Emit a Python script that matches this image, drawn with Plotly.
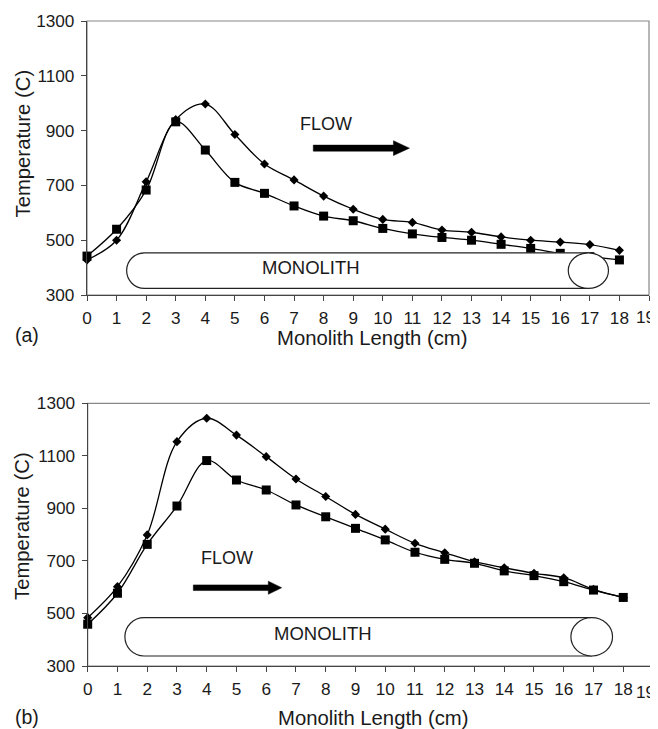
import plotly.graph_objects as go

# ---------------- data ----------------
length_cm = list(range(0, 19))

# (a)
a_diamond = [428, 500, 713, 940, 997, 886, 778, 720, 661, 613, 576, 565, 537, 529, 512, 500, 493, 484, 463]
a_square = [442, 540, 683, 932, 829, 711, 671, 625, 588, 571, 543, 523, 510, 500, 485, 470, 452, 440, 428]

# (b)
b_diamond = [484, 602, 799, 1154, 1243, 1179, 1097, 1012, 945, 877, 821, 767, 731, 697, 674, 653, 636, 592, 561]
b_square = [459, 577, 763, 909, 1082, 1008, 970, 913, 868, 824, 780, 733, 706, 691, 662, 644, 621, 589, 561]

x_ticks = list(range(0, 20))
x_ticktext = [str(v) for v in x_ticks[:-1]] + [""]   # last label placed as annotation (kept inside page)
y_ticks = [300, 500, 700, 900, 1100, 1300]

x_title = "Monolith Length (cm)"
y_title = "Temperature (C)"
panel_labels = ["(a)", "(b)"]

FONT = "Liberation Sans, Arial, Helvetica, sans-serif"
TXT = "#1a1a1a"
OFF = 8                    # page body margin
W, H = 658 - OFF, 729 - OFF
TICK_SIZE = 17.2


def px(x):
    return (x - OFF) / W


def py(y):
    return 1 - (y - OFF) / H


fig = go.Figure()


def add_series(xa, ya, diam, sq):
    fig.add_trace(go.Scatter(x=length_cm, y=diam, mode="lines+markers", xaxis=xa, yaxis=ya,
                             line=dict(color="black", width=1.3, shape="spline", smoothing=1),
                             marker=dict(symbol="diamond", size=7, color="black"),
                             cliponaxis=False, showlegend=False))
    fig.add_trace(go.Scatter(x=length_cm, y=sq, mode="lines+markers", xaxis=xa, yaxis=ya,
                             line=dict(color="black", width=1.3, shape="spline", smoothing=1),
                             marker=dict(symbol="square", size=9, color="black"),
                             cliponaxis=False, showlegend=False))


add_series("x", "y", a_diamond, a_square)
add_series("x2", "y2", b_diamond, b_square)

axis_common = dict(showline=True, linecolor="#444", linewidth=1.3, ticks="outside", ticklen=5,
                   tickcolor="#444", tickwidth=1.2, showgrid=False, zeroline=False,
                   tickfont=dict(family=FONT, size=TICK_SIZE, color=TXT), mirror=False,
                   automargin=False, ticklabeloverflow="allow")

fig.update_layout(
    template="none",
    width=W, height=H, margin=dict(l=0, r=0, t=0, b=0, autoexpand=False),
    paper_bgcolor="white", plot_bgcolor="white",
    xaxis=dict(axis_common, domain=[px(87), px(649)], range=[0, 19], tickvals=x_ticks,
               ticktext=x_ticktext, anchor="y", ticklabelstandoff=2),
    yaxis=dict(axis_common, domain=[py(295), py(21)], range=[300, 1300], tickvals=y_ticks,
               anchor="x", ticklabelstandoff=3),
    xaxis2=dict(axis_common, domain=[px(87.7), px(653)], range=[0, 19], tickvals=x_ticks,
                ticktext=x_ticktext, anchor="y2", ticklabelstandoff=2),
    yaxis2=dict(axis_common, domain=[py(666), py(403.3)], range=[300, 1300], tickvals=y_ticks,
                anchor="x2", ticklabelstandoff=3),
)

shapes = []
# frames (top/right lighter gray)
for xr, yr in (("x domain", "y domain"), ("x2 domain", "y2 domain")):
    shapes.append(dict(type="rect", xref=xr, yref=yr, x0=0, x1=1, y0=0, y1=1,
                       line=dict(color="#888", width=1.2), layer="below"))


def monolith(xr, yr, tip, rx, top, bot, cx0, cx1):
    cy = (top + bot) / 2
    ry = (top - bot) / 2
    k = 0.5523
    x0 = tip + rx
    cc = (cx0 + cx1) / 2
    path = (f"M {cc},{top} L {x0},{top} "
            f"C {x0 - k * rx},{top} {tip},{cy + k * ry} {tip},{cy} "
            f"C {tip},{cy - k * ry} {x0 - k * rx},{bot} {x0},{bot} "
            f"L {cc},{bot} Z")
    shapes.append(dict(type="path", xref=xr, yref=yr, path=path, fillcolor="white",
                       line=dict(color="#222", width=1.2), layer="above"))
    shapes.append(dict(type="circle", xref=xr, yref=yr, x0=cx0, x1=cx1, y0=bot, y1=top,
                       fillcolor="white", line=dict(color="#222", width=1.2), layer="above"))


monolith("x", "y", 1.34, 0.60, 454, 324, 16.27, 17.63)
monolith("x2", "y2", 1.25, 0.645, 484, 338, 16.24, 17.64)


def arrow(xr, yr, xt, xb, xh, yc, hs, hh):
    path = (f"M {xt},{yc + hs} L {xb},{yc + hs} L {xb},{yc + hh} L {xh},{yc} "
            f"L {xb},{yc - hh} L {xb},{yc - hs} L {xt},{yc - hs} Z")
    shapes.append(dict(type="path", xref=xr, yref=yr, path=path, fillcolor="black",
                       line=dict(color="black", width=0.5), layer="above"))


arrow("x", "y", 7.65, 10.36, 10.90, 836, 11, 27)
arrow("x2", "y2", 3.55, 6.07, 6.52, 598, 10.8, 25)

fig.update_layout(shapes=shapes)

ann = []


def text(x, y, s, xr="paper", yr="paper", size=17, xanchor="center", angle=0):
    ann.append(dict(x=x, y=y, xref=xr, yref=yr, text=s, showarrow=False, xanchor=xanchor,
                    yanchor="middle", textangle=angle,
                    font=dict(family=FONT, size=size, color=TXT)))


text(7.12, 924, "FLOW", "x", "y", 18, "left")
text(5.85, 399, "MONOLITH", "x", "y", 18.5, "left")
text(3.75, 712, "FLOW", "x2", "y2", 18, "left")
text(6.18, 422, "MONOLITH", "x2", "y2", 18.5, "left")

# last x tick label, nudged inside the page like the original
text(px(657), py(316.5), str(x_ticks[-1]), size=TICK_SIZE, xanchor="right")
text(px(657), py(691.5), str(x_ticks[-1]), size=TICK_SIZE, xanchor="right")

text(px(372), py(338), x_title, size=20.3)
text(px(374), py(718), x_title, size=20.3)
text(px(22), py(143.5), y_title, size=20.3, angle=-90)
text(px(22), py(526), y_title, size=20.3, angle=-90)
text(px(27), py(335), panel_labels[0], size=19.5)
text(px(27), py(716.7), panel_labels[1], size=19.5)

fig.update_layout(annotations=ann)

fig.write_html("out.html")
